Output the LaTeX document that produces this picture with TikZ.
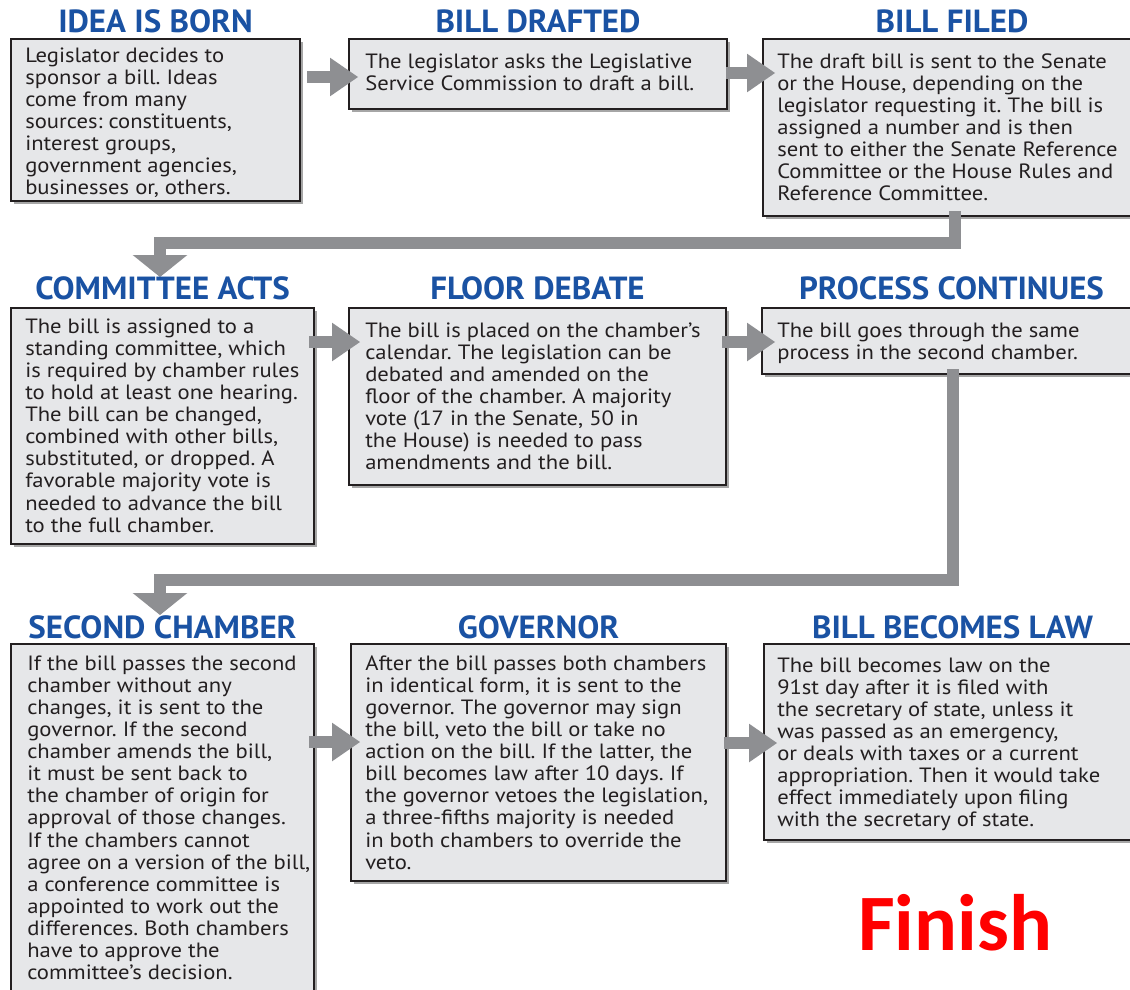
\documentclass[tikz,border=0pt]{standalone}
\usepackage{fontspec}
\usetikzlibrary{arrows.meta,shadows}
\newfontfamily\bodyff[FakeStretch=1.095]{PT Sans}
\newfontfamily\titleff[FakeStretch=1.03]{PT Sans}
\newfontfamily\finishff{Carlito}
\definecolor{boxfill}{HTML}{E6E7E9}
\definecolor{boxline}{HTML}{231F20}
\definecolor{arrowgray}{HTML}{8E8F92}
\definecolor{titleblue}{HTML}{1A52A3}
\definecolor{textdark}{HTML}{231F20}
\definecolor{finishred}{HTML}{FF0000}
\newcommand\lns[1]{\begin{tabular}[t]{@{}l@{}}#1\end{tabular}}
\frenchspacing
\begin{document}
\begin{tikzpicture}[x=0.75pt,y=-0.75pt,
  stepbox/.style={draw=boxline, line width=1.5pt, fill=boxfill, rectangle, anchor=north west, inner sep=0pt,
    drop shadow={shadow xshift=2.5pt, shadow yshift=-2.5pt, fill=black, opacity=0.35}},
  ttl/.style={font=\titleff\bfseries\fontsize{24}{24}\selectfont, text=titleblue, anchor=base, inner sep=0pt},
  txt/.style={font=\bodyff\fontsize{15.5}{16.6}\selectfont, text=textdark, anchor=base west, inner sep=0pt},
  conn/.style={draw=arrowgray, line width=9.5pt, -{Triangle[length=21pt, width=29pt, line width=0pt]}},
  vconn/.style={draw=arrowgray, line width=9.5pt, -{Triangle[length=16.5pt, width=41pt, line width=0pt]}},
  finish/.style={font=\finishff\bfseries\fontsize{60}{60}\selectfont, text=finishred, anchor=base, inner sep=0pt}]
\useasboundingbox (0,0) rectangle (1130,989);
\fill[white] (0,0) rectangle (1130,989);

% boxes
\node[stepbox, minimum width=216.75pt, minimum height=121.5pt] (b1) at (10,38) {};
\node[stepbox, minimum width=283.5pt, minimum height=52.5pt] (b2) at (348,38) {};
\node[stepbox, minimum width=283.5pt, minimum height=132.75pt] (b3) at (762,38) {};
\node[stepbox, minimum width=227.25pt, minimum height=177pt] (b4) at (10,307) {};
\node[stepbox, minimum width=282.75pt, minimum height=132.75pt] (b5) at (348,307) {};
\node[stepbox, minimum width=284.25pt, minimum height=49.5pt] (b6) at (761,307) {};
\node[stepbox, minimum width=227.25pt, minimum height=267.75pt] (b7) at (10,643) {};
\node[stepbox, minimum width=281.25pt, minimum height=177.75pt] (b8) at (350,643) {};
\node[stepbox, minimum width=282.75pt, minimum height=147pt] (b9) at (763,643) {};

% connectors
\draw[conn] ([shift={(6,39)}]b1.north east) -- ([shift={(10,39)}]b2.north west);
\draw[conn] ([shift={(-2,35)}]b2.north east) -- ([shift={(13,35)}]b3.north west);
\draw[conn] ([shift={(-6,35)}]b4.north east) -- ([shift={(12,35)}]b5.north west);
\draw[conn] ([shift={(-5,35)}]b5.north east) -- ([shift={(14,35)}]b6.north west);
\draw[conn] ([shift={(-6,99)}]b7.north east) -- ([shift={(10,99)}]b8.north west);
\draw[conn] ([shift={(-3,100)}]b8.north east) -- ([shift={(14,100)}]b9.north west);
\draw[vconn] ([shift={(193,-6)}]b3.south west) -- ++(0,32) -| ([shift={(150,-30)}]b4.north west);
\draw[vconn] ([shift={(192,-6)}]b6.south west) -- ++(0,211) -| ([shift={(150,-28)}]b7.north west);

% titles
\node[ttl] (h1) at ([shift={(0,-6)}]b1.north) {IDEA IS BORN};
\node[ttl] (h2) at ([shift={(0,-6)}]b2.north) {BILL DRAFTED};
\node[ttl] (h3) at ([shift={(0,-6)}]b3.north) {BILL FILED};
\node[ttl] (h4) at ([shift={(0,-8)}]b4.north) {COMMITTEE ACTS};
\node[ttl] (h5) at ([shift={(0,-8)}]b5.north) {FLOOR DEBATE};
\node[ttl] (h6) at ([shift={(0,-8)}]b6.north) {PROCESS CONTINUES};
\node[ttl] (h7) at ([shift={(0,-5)}]b7.north) {SECOND CHAMBER};
\node[ttl] (h8) at ([shift={(0,-5)}]b8.north) {GOVERNOR};
\node[ttl] (h9) at ([shift={(0,-5)}]b9.north) {BILL BECOMES LAW};

% texts
\node[txt] (t1) at ([shift={(15,24)}]b1.north west) {\lns{Legislator decides to\\sponsor a bill. Ideas\\come from many\\sources: constituents,\\interest groups,\\government agencies,\\businesses or, others.}};
\node[txt] (t2) at ([shift={(17,30)}]b2.north west) {\lns{The legislator asks the Legislative\\Service Commission to draft a bill.}};
\node[txt] (t3) at ([shift={(15,30)}]b3.north west) {\lns{The draft bill is sent to the Senate\\or the House, depending on the\\legislator requesting it. The bill is\\assigned a number and is then\\sent to either the Senate Reference\\Committee or the House Rules and\\Reference Committee.}};
\node[txt] (t4) at ([shift={(15,26)}]b4.north west) {\lns{The bill is assigned to a\\standing committee, which\\is required by chamber rules\\to hold at least one hearing.\\The bill can be changed,\\combined with other bills,\\substituted, or dropped. A\\favorable majority vote is\\needed to advance the bill\\to the full chamber.}};
\node[txt] (t5) at ([shift={(17,30)}]b5.north west) {\lns{The bill is placed on the chamber’s\\calendar. The legislation can be\\debated and amended on the\\floor of the chamber. A majority\\vote (17 in the Senate, 50 in\\the House) is needed to pass\\amendments and the bill.}};
\node[txt] (t6) at ([shift={(16,30)}]b6.north west) {\lns{The bill goes through the same\\process in the second chamber.}};
\node[txt] (t7) at ([shift={(17,27)}]b7.north west) {\lns{If the bill passes the second\\chamber without any\\changes, it is sent to the\\governor. If the second\\chamber amends the bill,\\it must be sent back to\\the chamber of origin for\\approval of those changes.\\If the chambers cannot\\agree on a version of the bill,\\a conference committee is\\appointed to work out the\\differences. Both chambers\\have to approve the\\committee’s decision.}};
\node[txt] (t8) at ([shift={(15,27)}]b8.north west) {\lns{After the bill passes both chambers\\in identical form, it is sent to the\\governor. The governor may sign\\the bill, veto the bill or take no\\action on the bill. If the latter, the\\bill becomes law after 10 days. If\\the governor vetoes the legislation,\\a three-fifths majority is needed\\in both chambers to override the\\veto.}};
\node[txt] (t9) at ([shift={(14,29)}]b9.north west) {\lns{The bill becomes law on the\\91st day after it is filed with\\the secretary of state, unless it\\was passed as an emergency,\\or deals with taxes or a current\\appropriation. Then it would take\\effect immediately upon filing\\with the secretary of state.}};

\node[finish] (fin) at (955,950) {Finish};
\end{tikzpicture}
\end{document}
